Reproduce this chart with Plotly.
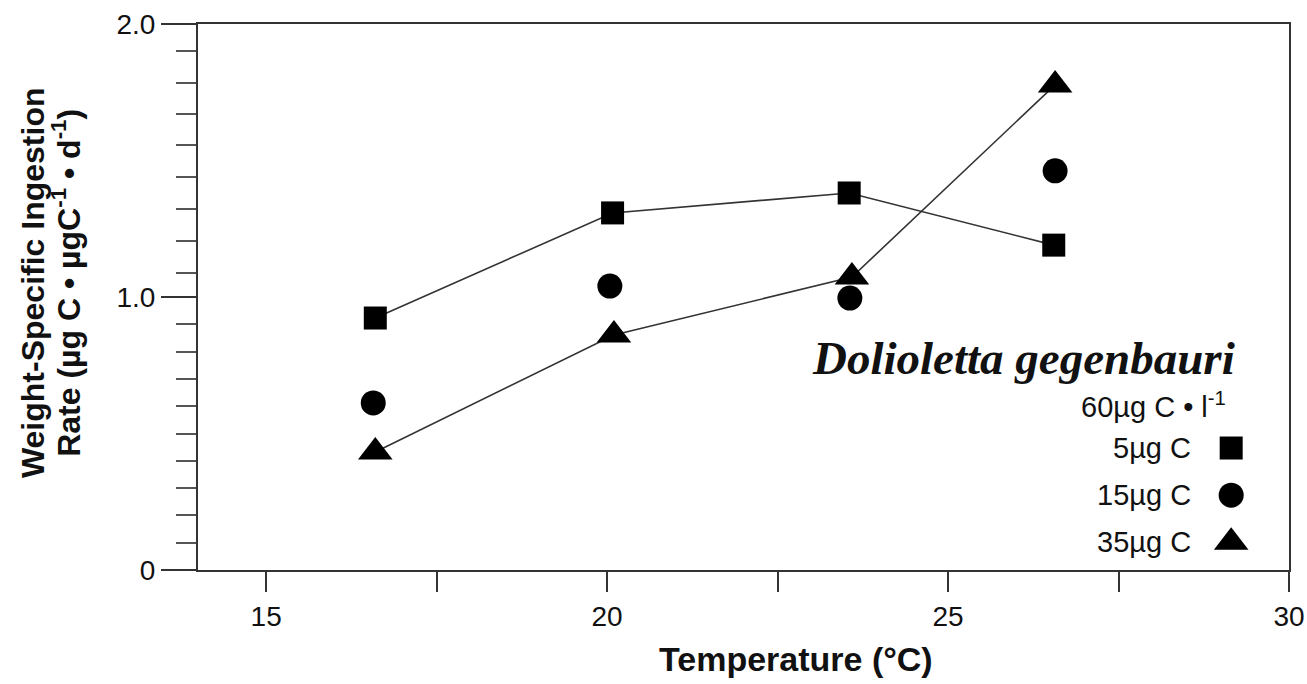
import plotly.graph_objects as go

# ---- data ----
temp_5 = [16.6, 20.08, 23.55, 26.55]
rate_5 = [0.923, 1.308, 1.381, 1.19]

temp_15 = [16.57, 20.04, 23.56, 26.57]
rate_15 = [0.612, 1.040, 0.996, 1.462]

temp_35 = [16.6, 20.1, 23.59, 26.57]
rate_35 = [0.432, 0.861, 1.073, 1.777]

x_tickvals = [15, 20, 25, 30]
x_ticktext = ["15", "20", "25", "30"]
x_minor = [17.5, 22.5, 27.5]
y_tickvals = [0, 1, 2]
y_ticktext = ["0", "1.0", "2.0"]
y_minor = [0.1, 0.2, 0.3, 0.4, 0.5, 0.6, 0.7, 0.8, 0.9,
           1.088, 1.205, 1.322, 1.44, 1.557, 1.672, 1.785, 1.9]

legend_labels = ["5µg C", "15µg C", "35µg C"]
legend_symbols = ["square", "circle", "triangle-up"]

SANS = "Liberation Sans Narrow, Arial Narrow, Liberation Sans, Arial, sans-serif"
SERIF = "Liberation Serif, Times New Roman, serif"
INK = "#111111"
AX = "#333333"

sizes = {"square": 23, "circle": 25, "triangle-up": 30}

fig = go.Figure()

fig.add_trace(go.Scatter(x=temp_5, y=rate_5, mode="lines+markers",
                         line=dict(color=AX, width=1.6),
                         marker=dict(symbol="square", size=sizes["square"], color="black"),
                         showlegend=False, cliponaxis=False))
fig.add_trace(go.Scatter(x=temp_15, y=rate_15, mode="markers",
                         marker=dict(symbol="circle", size=sizes["circle"], color="black"),
                         showlegend=False, cliponaxis=False))
fig.add_trace(go.Scatter(x=temp_35, y=rate_35, mode="lines+markers",
                         line=dict(color=AX, width=1.6),
                         marker=dict(symbol="triangle-up", size=sizes["triangle-up"], color="black"),
                         showlegend=False, cliponaxis=False))

# legend key markers on an overlay axis in fractional units
key_x = 0.947
key_y = [0.2234, 0.137, 0.051]
for sym, ky in zip(legend_symbols, key_y):
    fig.add_trace(go.Scatter(x=[key_x], y=[ky], mode="markers", xaxis="x2", yaxis="y2",
                             marker=dict(symbol=sym, size=sizes[sym], color="black"),
                             showlegend=False, hoverinfo="skip", cliponaxis=False))

fig.update_layout(
    width=1307, height=684,
    margin=dict(l=198, r=18, t=24, b=114),
    paper_bgcolor="white", plot_bgcolor="white",
    xaxis=dict(range=[14, 30], tickmode="array", tickvals=x_tickvals, ticktext=x_ticktext,
               showline=True, linecolor=AX, linewidth=2, mirror=True, automargin=False,
               ticks="outside", ticklen=20, tickwidth=2, tickcolor=AX,
               minor=dict(tickmode="array", tickvals=x_minor, ticks="outside",
                          ticklen=20, tickwidth=2, tickcolor=AX),
               showgrid=False, zeroline=False,
               tickfont=dict(family=SANS, size=28, color=INK)),
    yaxis=dict(range=[0, 2], tickmode="array", tickvals=y_tickvals, ticktext=y_ticktext,
               showline=True, linecolor=AX, linewidth=2, mirror=True, automargin=False,
               ticks="outside", ticklen=35, tickwidth=2, tickcolor=AX,
               minor=dict(tickmode="array", tickvals=y_minor, ticks="outside",
                          ticklen=20, tickwidth=1.5, tickcolor="#555555"),
               showgrid=False, zeroline=False,
               tickfont=dict(family=SANS, size=28, color=INK)),
    xaxis2=dict(range=[0, 1], overlaying="x", visible=False, fixedrange=True, automargin=False),
    yaxis2=dict(range=[0, 1], overlaying="y", visible=False, fixedrange=True, automargin=False),
)

ann = []
ann.append(dict(text="<b>Temperature (°C)</b>", x=0.548, y=-0.163, xref="paper", yref="paper",
                xanchor="center", yanchor="middle", showarrow=False,
                font=dict(family=SANS, size=34, color=INK)))
ann.append(dict(text="<b>Weight-Specific Ingestion</b>", x=-0.151, y=0.526, xref="paper", yref="paper",
                xanchor="center", yanchor="middle", showarrow=False, textangle=-90,
                font=dict(family=SANS, size=32, color=INK)))
ann.append(dict(text="<b>Rate (µg C • µgC<sup>-1</sup> • d<sup>-1</sup>)</b>", x=-0.121, y=0.526,
                xref="paper", yref="paper",
                xanchor="center", yanchor="middle", showarrow=False, textangle=-90,
                font=dict(family=SANS, size=32, color=INK)))
ann.append(dict(text="<b><i>Dolioletta gegenbauri</i></b>", x=0.952, y=0.388, xref="paper", yref="paper",
                xanchor="right", yanchor="middle", showarrow=False,
                font=dict(family=SERIF, size=47, color=INK)))
ann.append(dict(text="60µg C • l<sup>-1</sup>", x=0.944, y=0.302, xref="paper", yref="paper",
                xanchor="right", yanchor="middle", showarrow=False,
                font=dict(family=SANS, size=29, color=INK)))
for lab, ky in zip(legend_labels, key_y):
    ann.append(dict(text=lab, x=0.912, y=ky, xref="paper", yref="paper",
                    xanchor="right", yanchor="middle", showarrow=False,
                    font=dict(family=SANS, size=29, color=INK)))
fig.update_layout(annotations=ann)

fig.write_html("out.html")
